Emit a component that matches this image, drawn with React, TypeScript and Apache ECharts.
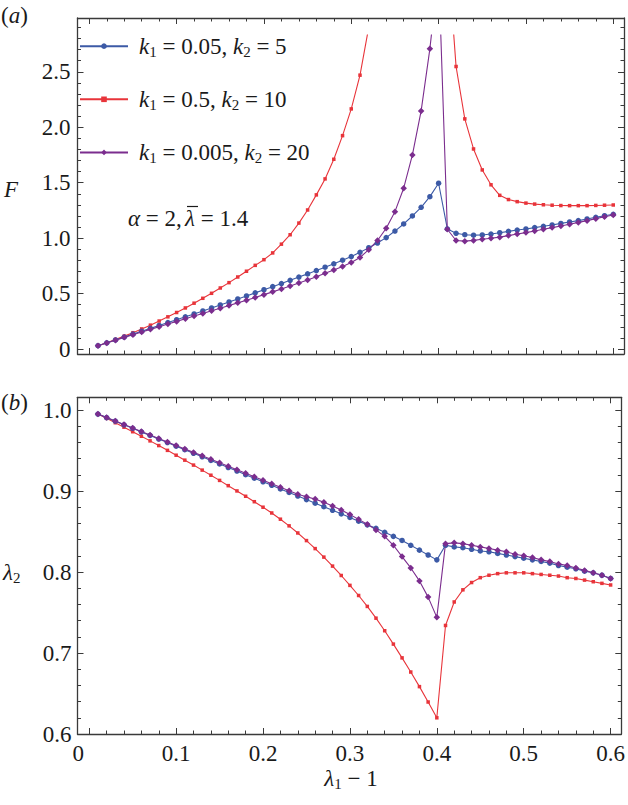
import React, { useEffect, useRef } from 'react';
import * as echarts from 'echarts';

// ---------------- data ----------------
const xs = [
  0.01, 0.02, 0.03, 0.04, 0.05, 0.06, 0.07, 0.08, 0.09, 0.10,
  0.11, 0.12, 0.13, 0.14, 0.15, 0.16, 0.17, 0.18, 0.19, 0.20,
  0.21, 0.22, 0.23, 0.24, 0.25, 0.26, 0.27, 0.28, 0.29, 0.30,
  0.31, 0.32, 0.33, 0.34, 0.35, 0.36, 0.37, 0.38, 0.39, 0.40,
  0.41, 0.42, 0.43, 0.44, 0.45, 0.46, 0.47, 0.48, 0.49, 0.50,
  0.51, 0.52, 0.53, 0.54, 0.55, 0.56, 0.57, 0.58, 0.59, 0.60,
];

// panel (a): F
const blueF = [
  0.030, 0.056, 0.082, 0.108, 0.134, 0.160, 0.186, 0.212, 0.238, 0.264,
  0.290, 0.316, 0.343, 0.370, 0.397, 0.424, 0.451, 0.478, 0.506, 0.534,
  0.562, 0.590, 0.619, 0.648, 0.677, 0.707, 0.737, 0.768, 0.800, 0.833,
  0.871, 0.913, 0.955, 1.004, 1.063, 1.127, 1.199, 1.277, 1.373, 1.494,
  1.082, 1.043, 1.030, 1.026, 1.028, 1.036, 1.048, 1.060, 1.072, 1.082,
  1.094, 1.106, 1.118, 1.132, 1.145, 1.157, 1.172, 1.187, 1.201, 1.214,
];
const redF = [
  0.030, 0.057, 0.086, 0.116, 0.147, 0.181, 0.215, 0.252, 0.290, 0.329,
  0.370, 0.413, 0.457, 0.502, 0.550, 0.598, 0.649, 0.701, 0.754, 0.805,
  0.866, 0.945, 1.030, 1.135, 1.253, 1.389, 1.533, 1.710, 1.923, 2.164,
  2.468, 2.900, 3.450, 4.200, 5.100, 6.300, 7.900, 10.20, 14.00, 8.500,
  3.620, 2.546, 2.074, 1.803, 1.614, 1.480, 1.385, 1.347, 1.328, 1.315,
  1.306, 1.300, 1.296, 1.293, 1.292, 1.292, 1.292, 1.294, 1.296, 1.298,
];
const purpleF = [
  0.030, 0.055, 0.080, 0.105, 0.129, 0.153, 0.177, 0.201, 0.225, 0.249,
  0.273, 0.297, 0.320, 0.344, 0.368, 0.392, 0.416, 0.440, 0.465, 0.490,
  0.515, 0.541, 0.567, 0.594, 0.622, 0.652, 0.682, 0.712, 0.744, 0.780,
  0.825, 0.895, 0.978, 1.088, 1.238, 1.449, 1.749, 2.146, 2.705, 3.420,
  1.079, 0.978, 0.972, 0.979, 0.989, 0.998, 1.008, 1.022, 1.036, 1.049,
  1.064, 1.079, 1.094, 1.109, 1.125, 1.141, 1.157, 1.175, 1.192, 1.208,
];

// panel (b): lambda_2
const blueL = [
  0.9950, 0.9906, 0.9862, 0.9818, 0.9774, 0.9730, 0.9686, 0.9642, 0.9598, 0.9554,
  0.9510, 0.9466, 0.9422, 0.9378, 0.9334, 0.9290, 0.9246, 0.9202, 0.9158, 0.9114,
  0.9070, 0.9026, 0.8982, 0.8938, 0.8894, 0.8850, 0.8806, 0.8762, 0.8718, 0.8674,
  0.8628, 0.8582, 0.8540, 0.8490, 0.8440, 0.8390, 0.8330, 0.8270, 0.8210, 0.8150,
  0.8330, 0.8310, 0.8300, 0.8280, 0.8260, 0.8250, 0.8230, 0.8210, 0.8190, 0.8170,
  0.8150, 0.8130, 0.8110, 0.8080, 0.8060, 0.8040, 0.8010, 0.7990, 0.7960, 0.7920,
];
const redL = [
  0.9950, 0.9897, 0.9843, 0.9788, 0.9732, 0.9676, 0.9619, 0.9561, 0.9502, 0.9442,
  0.9381, 0.9320, 0.9258, 0.9195, 0.9131, 0.9066, 0.9001, 0.8935, 0.8868, 0.8800,
  0.8729, 0.8652, 0.8570, 0.8482, 0.8388, 0.8289, 0.8184, 0.8073, 0.7957, 0.7835,
  0.7710, 0.7575, 0.7430, 0.7275, 0.7110, 0.6940, 0.6765, 0.6585, 0.6395, 0.6200,
  0.7340, 0.7630, 0.7780, 0.7870, 0.7930, 0.7960, 0.7980, 0.7990, 0.7990, 0.7990,
  0.7980, 0.7970, 0.7960, 0.7950, 0.7930, 0.7920, 0.7900, 0.7880, 0.7860, 0.7840,
];
const purpleL = [
  0.9950, 0.9907, 0.9864, 0.9821, 0.9778, 0.9735, 0.9692, 0.9649, 0.9606, 0.9563,
  0.9520, 0.9477, 0.9434, 0.9391, 0.9348, 0.9305, 0.9262, 0.9219, 0.9176, 0.9133,
  0.9090, 0.9047, 0.9004, 0.8961, 0.8930, 0.8900, 0.8860, 0.8815, 0.8765, 0.8710,
  0.8650, 0.8590, 0.8520, 0.8440, 0.8330, 0.8190, 0.8050, 0.7890, 0.7690, 0.7440,
  0.8350, 0.8360, 0.8350, 0.8330, 0.8310, 0.8290, 0.8270, 0.8250, 0.8220, 0.8200,
  0.8180, 0.8150, 0.8130, 0.8100, 0.8080, 0.8050, 0.8020, 0.7990, 0.7960, 0.7920,
];

const seriesNames = ['k1=0.05,k2=5', 'k1=0.5,k2=10', 'k1=0.005,k2=20'];

// ticks
const xMajorTicks = [0, 0.1, 0.2, 0.3, 0.4, 0.5, 0.6];
const xMinorTicks = [
  0.02, 0.04, 0.06, 0.08, 0.12, 0.14, 0.16, 0.18, 0.22, 0.24, 0.26, 0.28,
  0.32, 0.34, 0.36, 0.38, 0.42, 0.44, 0.46, 0.48, 0.52, 0.54, 0.56, 0.58,
];
const fMajorTicks = [0, 0.5, 1.0, 1.5, 2.0, 2.5];
const fMinorTicks = [
  0.1, 0.2, 0.3, 0.4, 0.6, 0.7, 0.8, 0.9, 1.1, 1.2, 1.3, 1.4, 1.6, 1.7, 1.8, 1.9,
  2.1, 2.2, 2.3, 2.4, 2.6, 2.7, 2.8, 2.9,
];
const lMajorTicks = [0.6, 0.7, 0.8, 0.9, 1.0];
const lMinorTicks = [
  0.62, 0.64, 0.66, 0.68, 0.72, 0.74, 0.76, 0.78, 0.82, 0.84, 0.86, 0.88,
  0.92, 0.94, 0.96, 0.98,
];

// ---------------- styling ----------------
const FONT = '"Liberation Serif", "Times New Roman", Times, serif';
const INK = '#1a1a1a';
const FRAME = '#3a3a3a';
const BLUE = '#3c5aa6';
const RED = '#e8343a';
const PURPLE = '#7b2d8e';

const X_MIN = -0.0135;
const X_MAX = 0.6123;
const F_MIN = -0.045;
const F_MAX = 2.985;
const F_CLIP = 2.83;
const L_MIN = 0.6;
const L_MAX = 1.0157;

const GRID_L = 77.5;
const GRID_R = 4;
const FS = 23;

function axis(
  gridIndex: number,
  position: string,
  min: number,
  max: number,
  ticks: number[],
  len: number,
  showLine: boolean,
  label?: { values: number[]; formatter: (v: number) => string; margin: number }
): any {
  return {
    type: 'value',
    gridIndex,
    position,
    min,
    max,
    silent: true,
    axisLine: { show: showLine, onZero: false, lineStyle: { color: FRAME, width: 1.3 } },
    axisTick: {
      show: true,
      inside: true,
      length: len,
      customValues: ticks,
      lineStyle: { color: FRAME, width: 1 },
    },
    minorTick: { show: false },
    splitLine: { show: false },
    axisLabel: label
      ? {
          show: true,
          customValues: label.values,
          formatter: label.formatter,
          margin: label.margin,
          fontFamily: FONT,
          fontSize: FS,
          color: INK,
          rich: { z: { fontFamily: FONT, fontSize: FS, color: INK, padding: [0, 22, 0, 0] } },
        }
      : { show: false },
  };
}

const fmt1 = (v: number) => (Math.abs(v) < 1e-9 ? '0' : v.toFixed(1));
const fmtX = (v: number) => (Math.abs(v) < 1e-9 ? '{z|0}' : v.toFixed(1));

function makeSeries(name: string, ys: number[], color: string, symbol: string, size: number, ai: number) {
  return {
    type: 'line',
    name,
    data: xs.map((x, i) => [x, ys[i]]),
    xAxisIndex: ai,
    yAxisIndex: ai,
    symbol,
    symbolSize: size,
    showSymbol: true,
    showAllSymbol: true,
    clip: true,
    lineStyle: { color, width: 1.1 },
    itemStyle: { color },
    emphasis: { disabled: true },
    silent: true,
  };
}

const legendText: Record<string, string> = {
  'k1=0.05,k2=5': '{k0|k}{s|1}{n| = 0.05, }{k|k}{s|2}{n| = 5}',
  'k1=0.5,k2=10': '{k0|k}{s|1}{n| = 0.5, }{k|k}{s|2}{n| = 10}',
  'k1=0.005,k2=20': '{k0|k}{s|1}{n| = 0.005, }{k|k}{s|2}{n| = 20}',
};

const richBase = {
  k0: { fontFamily: FONT, fontSize: FS, fontStyle: 'italic', color: INK, lineHeight: 26, padding: [0, 0, 0, 6] },
  k: { fontFamily: FONT, fontSize: FS, fontStyle: 'italic', color: INK, lineHeight: 26 },
  i: { fontFamily: FONT, fontSize: FS, fontStyle: 'italic', color: INK, lineHeight: 26 },
  s: { fontFamily: FONT, fontSize: 15, color: INK, lineHeight: 14, verticalAlign: 'bottom' },
  n: { fontFamily: FONT, fontSize: FS, color: INK, lineHeight: 26 },
};

function label(x: number, y: number, text: string, align: string = 'left') {
  return {
    type: 'text',
    x,
    y,
    silent: true,
    style: {
      text,
      align,
      verticalAlign: 'middle',
      fontFamily: FONT,
      fontSize: FS,
      fill: INK,
      rich: richBase,
    },
  };
}

export default function App() {
  const ref = useRef<HTMLDivElement>(null);

  useEffect(() => {
    if (!ref.current) return;
    const chart = echarts.init(ref.current, null, { renderer: 'svg' });

    const option: any = {
      animation: false,
      backgroundColor: '#ffffff',
      grid: [
        { left: GRID_L, right: GRID_R, top: 18, bottom: 451 },
        { left: GRID_L, right: GRID_R, top: 35, bottom: 451 },
        { left: GRID_L, right: GRID_R, top: 397.3, bottom: 71 },
      ],
      xAxis: [
        axis(0, 'bottom', X_MIN, X_MAX, xMajorTicks, 6, true),
        axis(0, 'bottom', X_MIN, X_MAX, xMinorTicks, 3.5, false),
        axis(0, 'top', X_MIN, X_MAX, xMajorTicks, 6, true),
        axis(0, 'top', X_MIN, X_MAX, xMinorTicks, 3.5, false),
        { type: 'value', gridIndex: 1, min: X_MIN, max: X_MAX, show: false },
        axis(2, 'bottom', X_MIN, X_MAX, xMajorTicks, 6, true, { values: xMajorTicks, formatter: fmtX, margin: 8 }),
        axis(2, 'bottom', X_MIN, X_MAX, xMinorTicks, 3.5, false),
        axis(2, 'top', X_MIN, X_MAX, xMajorTicks, 6, true),
        axis(2, 'top', X_MIN, X_MAX, xMinorTicks, 3.5, false),
      ],
      yAxis: [
        axis(0, 'left', F_MIN, F_MAX, fMajorTicks, 6, true, { values: fMajorTicks, formatter: fmt1, margin: 7 }),
        axis(0, 'left', F_MIN, F_MAX, fMinorTicks, 3.5, false),
        axis(0, 'right', F_MIN, F_MAX, fMajorTicks, 6, true),
        axis(0, 'right', F_MIN, F_MAX, fMinorTicks, 3.5, false),
        { type: 'value', gridIndex: 1, min: F_MIN, max: F_CLIP, show: false },
        axis(2, 'left', L_MIN, L_MAX, lMajorTicks, 6, true, { values: lMajorTicks, formatter: fmt1, margin: 6 }),
        axis(2, 'left', L_MIN, L_MAX, lMinorTicks, 3.5, false),
        axis(2, 'right', L_MIN, L_MAX, lMajorTicks, 6, true),
        axis(2, 'right', L_MIN, L_MAX, lMinorTicks, 3.5, false),
      ],
      legend: {
        data: seriesNames,
        orient: 'vertical',
        left: 79,
        top: 34.7,
        padding: 0,
        itemWidth: 48,
        itemHeight: 7,
        itemGap: 28.6,
        selectedMode: false,
        formatter: (name: string) => legendText[name],
        textStyle: { fontFamily: FONT, fontSize: FS, color: INK, rich: richBase },
      },
      series: [
        makeSeries(seriesNames[1], redF, RED, 'rect', 3.5, 4),
        makeSeries(seriesNames[0], blueF, BLUE, 'circle', 5.5, 4),
        makeSeries(seriesNames[2], purpleF, PURPLE, 'diamond', 6.5, 4),
        makeSeries(seriesNames[1], redL, RED, 'rect', 3.5, 5),
        makeSeries(seriesNames[0], blueL, BLUE, 'circle', 5.5, 5),
        makeSeries(seriesNames[2], purpleL, PURPLE, 'diamond', 6.5, 5),
      ],
      graphic: [
        label(1, 15, '({i|a})'),
        label(1, 402, '({i|b})'),
        label(4, 189, '{i|F}'),
        label(3, 572, '{i|λ}{s|2}'),
        label(351, 778, '{i|λ}{s|1}{n| − 1}', 'center'),
        label(128, 218, '{i|α}{n| = 2,}'),
        label(185, 218, '{i|λ}{n| = 1.4}'),
        {
          type: 'line',
          silent: true,
          shape: { x1: 187, y1: 206.5, x2: 198, y2: 206.5 },
          style: { stroke: INK, lineWidth: 1.2 },
        },
      ],
    };

    chart.setOption(option);
    return () => chart.dispose();
  }, []);

  return (
    <div
      ref={ref}
      style={{ position: 'absolute', left: 0, top: 0, width: 628, height: 805, background: '#fff' }}
    />
  );
}
